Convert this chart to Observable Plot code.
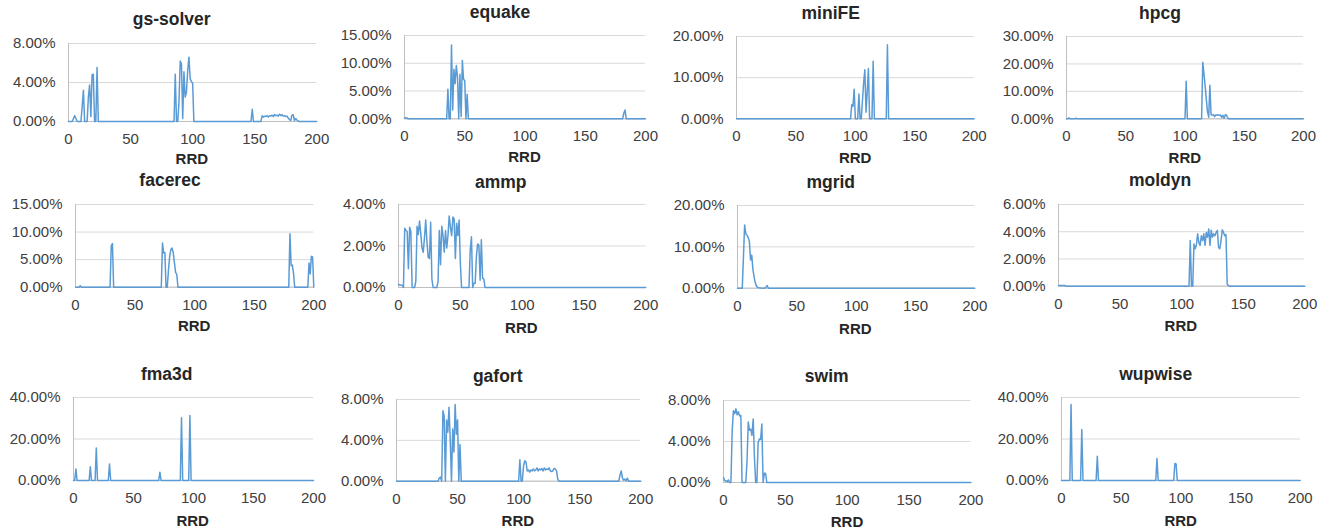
<!DOCTYPE html>
<html>
<head>
<meta charset="utf-8">
<script src="https://cdn.jsdelivr.net/npm/d3@7"></script>
<script src="https://cdn.jsdelivr.net/npm/@observablehq/plot@0.6"></script>
<style>
  html, body { margin: 0; padding: 0; background: #ffffff; }
  #chart { position: relative; width: 1331px; height: 529px; overflow: hidden; font-family: "Liberation Sans", Arial, sans-serif; }
  .panel { position: absolute; }
  .ttl { position: absolute; transform: translate(-50%, -50%); white-space: nowrap; font-weight: bold; font-size: 17.5px; color: #262626; }
  .xl { position: absolute; transform: translate(-50%, -50%); white-space: nowrap; font-weight: bold; font-size: 15px; color: #262626; }
</style>
</head>
<body>
<div id="chart"></div>
<script>
// ---- data: [RRD, percent] points ----
const gsSolver = [[0,0],[3,0],[4,0.3],[5,0.6],[6,0.3],[7,0],[10,0],[11,1.5],[12,3.2],[13,0],[15,0],[16,2.5],[17,3.75],[18,0.5],[19,4.8],[20,4.85],[21,0],[22,0],[23,5.55],[24,0],[85,0],[86,4.85],[87,0],[88,0],[89,2.0],[90,6.2],[91,5.9],[92,0.3],[93,5.1],[94,2.5],[95,3.0],[96,5.2],[97,6.6],[98,4.4],[99,4.1],[100,3.9],[101,0],[147,0],[148,1.25],[149,0],[155,0],[156,0.6],[157,0.45],[158,0.55],[159,0.5],[160,0.6],[161,0.45],[162,0.6],[163,0.55],[164,0.65],[165,0.5],[166,0.7],[167,0.6],[168,0.65],[169,0.55],[170,0.75],[171,0.6],[172,0.7],[173,0.55],[174,0.6],[175,0.5],[176,0.55],[177,0.35],[178,0.2],[179,0.1],[180,0.65],[181,0.7],[182,0.1],[183,0.3],[184,0.15],[185,0.05],[186,0],[200,0]];
const equake = [[0,0.15],[1,0.2],[2,0.15],[3,0],[35,0],[36,5.3],[37,0],[38,0],[39,13.3],[40,1.6],[41,8.9],[42,6.3],[43,9.6],[44,7.5],[45,0],[46,8.0],[47,0.4],[48,10.5],[49,7.1],[50,6.9],[51,0],[52,4.4],[53,0],[181,0],[182,1.0],[183,1.6],[184,0],[200,0]];
const miniFE = [[0,0],[96,0],[97,3.5],[98,3.0],[99,7.2],[100,0],[102,0],[103,6.0],[104,0],[105,0],[106,4.5],[107,8.8],[108,11.9],[109,1.6],[110,6.5],[111,12.2],[112,0],[114,0],[115,14.0],[116,0],[126,0],[127,18.0],[128,0],[200,0]];
const hpcg = [[0,0],[1,0],[2,0.3],[3,0],[7,0],[8,0.2],[9,0],[100,0],[101,13.7],[102,0],[114,0],[115,20.6],[116,16.5],[117,12],[118,7],[119,2.5],[120,0.6],[121,12.2],[122,1.5],[123,1.4],[124,1.5],[125,0.8],[126,1.4],[127,1.3],[128,1.5],[129,1.2],[130,1.4],[131,0.5],[132,1.3],[133,0.2],[134,1.5],[135,1.4],[136,0.3],[137,0],[200,0]];
const facerec = [[0,0],[3,0],[4,0.25],[5,0],[29,0],[30,7.5],[31,7.9],[32,0],[72,0],[73,8.0],[74,6.2],[75,6.3],[76,0],[77,0],[78,3.0],[79,5.5],[80,6.8],[81,7.1],[82,6.3],[83,4.5],[84,2.7],[85,2.3],[86,0],[179,0],[180,9.7],[181,3.9],[182,4.0],[183,2.5],[184,0],[195,0],[196,4.4],[197,2.4],[198,5.6],[199,5.5],[200,0]];
const ammp = [[0,0.15],[1,0.12],[2,0.12],[3,0.1],[4,0],[5,2.85],[6,2.75],[7,2.7],[8,0.9],[9,2.9],[10,2.7],[11,0],[13,0],[14,0.3],[15,2.95],[16,2.55],[17,3.2],[18,2.6],[19,1.9],[20,1.7],[21,2.4],[22,3.25],[23,2.2],[24,1.45],[25,1.4],[26,3.15],[27,0.4],[28,0],[31,0],[32,0.3],[33,2.75],[34,1.1],[35,2.95],[36,2.5],[37,1.7],[38,2.75],[39,1.9],[40,2.5],[41,3.45],[42,2.9],[43,2.5],[44,3.4],[45,3.3],[46,1.4],[47,3.1],[48,2.5],[49,3.25],[50,1.2],[51,0],[57,0],[58,1.8],[59,2.45],[60,0],[61,0.2],[62,0.2],[63,1.5],[64,2.1],[65,2.05],[66,0.35],[67,2.3],[68,0.45],[69,0.4],[70,0],[200,0]];
const mgrid = [[0,0],[4,0],[5,7.5],[6,15.3],[7,13.2],[8,12.8],[9,12.3],[10,11.3],[11,6.8],[12,8.0],[13,4.5],[14,2.7],[15,1.3],[16,0.5],[17,0.2],[18,0.1],[20,0.05],[23,0],[24,0.3],[25,0.65],[26,0],[200,0]];
const moldyn = [[0,0.05],[5,0.05],[6,0],[106,0],[107,3.35],[108,0],[109,0],[110,3.1],[111,2.75],[112,3.05],[113,3.85],[114,3.2],[115,3.0],[116,3.7],[117,3.35],[118,3.85],[119,3.0],[120,3.95],[121,3.6],[122,4.2],[123,3.0],[124,4.1],[125,3.6],[126,3.85],[127,3.7],[128,3.95],[129,4.1],[130,2.85],[131,2.75],[132,3.35],[133,4.15],[134,3.95],[135,3.7],[136,3.8],[137,0.15],[138,0.05],[139,0],[200,0]];
const fma3d = [[0,0],[1,0],[2,5.5],[3,0],[13,0],[14,6.6],[15,0],[18,0],[19,15.7],[20,0],[29,0],[30,7.9],[31,0],[71,0],[72,4.0],[73,0],[89,0],[90,30.2],[91,0],[96,0],[97,31.3],[98,0],[200,0]];
const gafort = [[0,0],[34,0],[35,0.3],[36,0.4],[37,0],[38,6.9],[39,6.4],[40,0],[41,6.0],[42,4.8],[43,7.25],[44,4.0],[45,0],[46,5.1],[47,2.85],[48,7.5],[49,4.6],[50,6.0],[51,0],[52,3.6],[53,0],[100,0],[101,2.1],[102,0],[103,0],[104,1.5],[105,2.0],[106,1.9],[107,1.0],[108,1.1],[109,0.9],[110,1.1],[111,1.0],[112,1.2],[113,1.0],[114,1.1],[115,1.3],[116,1.0],[117,1.2],[118,1.1],[119,1.25],[120,1.0],[121,1.3],[122,1.1],[123,1.2],[124,1.15],[125,1.3],[126,1.0],[127,0.95],[128,1.0],[129,1.25],[130,1.2],[131,1.0],[132,0.2],[133,0],[182,0],[183,0.6],[184,1.0],[185,0.3],[186,0.1],[187,0.2],[188,0.05],[189,0.3],[190,0],[200,0]];
const swim = [[0,0.45],[1,0.2],[2,0.15],[3,0.1],[4,0.25],[5,0],[6,0],[7,5.0],[8,7.0],[9,6.7],[10,7.2],[11,6.6],[12,6.9],[13,6.5],[14,6.55],[15,0],[18,0],[19,2.0],[20,5.9],[21,5.1],[22,5.2],[23,4.6],[24,6.2],[25,2.5],[26,0],[27,0],[28,3.9],[29,4.25],[30,4.2],[31,5.7],[32,0],[33,0.9],[34,0.9],[35,0],[200,0]];
const wupwise = [[0,0],[7,0],[8,36.6],[9,0],[16,0],[17,24.6],[18,0],[29,0],[30,11.7],[31,0],[79,0],[80,10.6],[81,0],[94,0],[95,8.2],[96,8.0],[97,0],[200,0]];

// titles, series and tick values
const titles = ["gs-solver","equake","miniFE","hpcg","facerec","ammp","mgrid","moldyn","fma3d","gafort","swim","wupwise"];
const series = [gsSolver, equake, miniFE, hpcg, facerec, ammp, mgrid, moldyn, fma3d, gafort, swim, wupwise];
const yTickSets = [[0,4,8],[0,5,10,15],[0,10,20],[0,10,20,30],[0,5,10,15],[0,2,4],[0,10,20],[0,2,4,6],[0,20,40],[0,4,8],[0,4,8],[0,20,40]];
const xTicks = [0,50,100,150,200];
const xLabel = "RRD";

// layout (page pixels): plot left/right, top gridline, zero line, title centre, x-label centre y
const layout = [
  [67.7, 316, 42.7, 120.7, 171.7, 19, 158],
  [404, 645, 35, 118.3, 500, 12, 155.7],
  [736.3, 974, 36, 118.3, 830.7, 13, 156.7],
  [1066.3, 1303.3, 36, 118.3, 1160, 13, 156.7],
  [75, 313.3, 204, 286.7, 170, 180, 325],
  [397.7, 645, 204.3, 287.3, 500.7, 181.5, 326.7],
  [736.7, 974, 205, 287.7, 830.7, 181.5, 327.7],
  [1057.7, 1304, 204, 285.7, 1160, 180, 325],
  [72.7, 312.7, 397.3, 480.3, 166.7, 374.3, 519.5],
  [395.7, 640, 399, 480.7, 497.7, 375.7, 519.5],
  [723.3, 970.7, 400, 482, 826.7, 375.7, 521],
  [1061.3, 1300, 397.3, 480.3, 1155.7, 374.3, 519.5]
];

const chart = document.getElementById("chart");
const ML = 80, MR = 25, MT = 12, MB = 30;

series.forEach((data, i) => {
  const [L, R, T, B, tx, ty, ly] = layout[i];
  const yTicks = yTickSets[i];
  const yMax = yTicks[yTicks.length - 1];
  const W = (R - L) + ML + MR;
  const H = (B - T) + MT + MB;
  const svg = Plot.plot({
    width: W, height: H,
    marginLeft: ML, marginRight: MR, marginTop: MT, marginBottom: MB,
    style: { fontFamily: "'Liberation Sans', Arial, sans-serif", fontSize: "15px", color: "#404040", background: "transparent", overflow: "visible" },
    x: { domain: [0, 200], ticks: xTicks, tickSize: 0, tickPadding: 12, label: null },
    y: { domain: [0, yMax], ticks: yTicks, tickSize: 0, tickPadding: 13, tickFormat: d => d.toFixed(2) + "%", label: null },
    marks: [
      Plot.gridY(yTicks, { stroke: "#d9d9d9", strokeOpacity: 1, strokeWidth: 1 }),
      Plot.ruleX([0], { y1: 0, y2: yMax, stroke: "#bfbfbf", strokeWidth: 1 }),
      Plot.ruleY([0], { stroke: "#bfbfbf", strokeWidth: 1 }),
      Plot.line(data, { x: d => d[0], y: d => d[1], stroke: "#5b9bd5", strokeWidth: 1.5 })
    ]
  });
  const wrap = document.createElement("div");
  wrap.className = "panel";
  wrap.style.left = (L - ML) + "px";
  wrap.style.top = (T - MT) + "px";
  wrap.appendChild(svg);
  chart.appendChild(wrap);

  const t = document.createElement("div");
  t.className = "ttl";
  t.style.left = tx + "px";
  t.style.top = ty + "px";
  t.textContent = titles[i];
  chart.appendChild(t);

  const xl = document.createElement("div");
  xl.className = "xl";
  xl.style.left = ((L + R) / 2) + "px";
  xl.style.top = ly + "px";
  xl.textContent = xLabel;
  chart.appendChild(xl);
});
</script>
</body>
</html>
